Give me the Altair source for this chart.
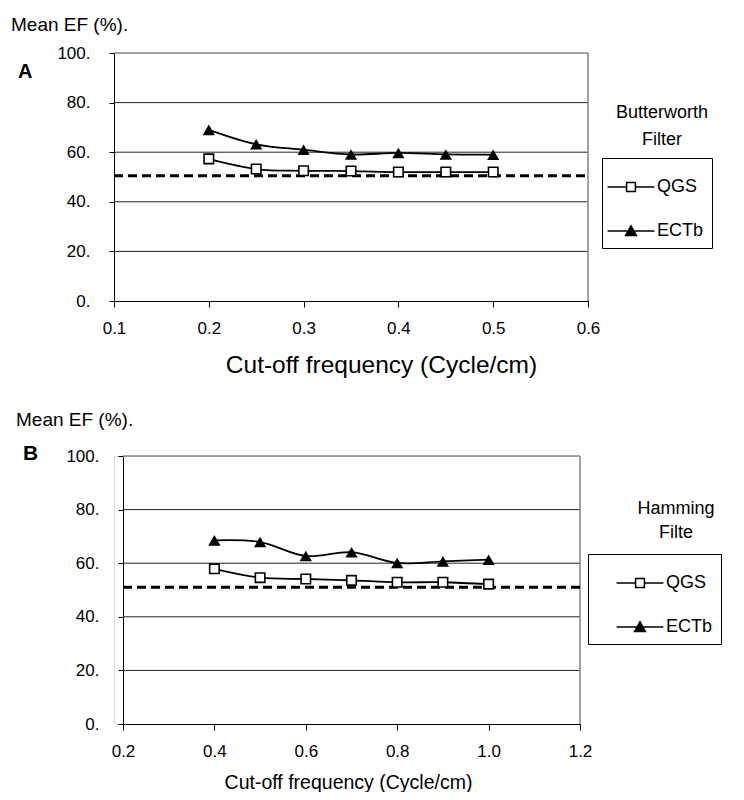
import altair as alt
import pandas as pd

FONT = "Liberation Sans"

series_names = ["QGS", "ECTb"]

# Panel A: Butterworth filter
a_freq = [0.2, 0.25, 0.3, 0.35, 0.4, 0.45, 0.5]
a_qgs = [57.3, 53.2, 52.5, 52.4, 52.0, 52.0, 52.0]
a_ectb = [69.0, 63.2, 61.0, 59.1, 59.7, 59.1, 59.0]
a_ref = [50.5]
a_xticks = [0.1, 0.2, 0.3, 0.4, 0.5, 0.6]
a_xdomain = [0.1, 0.6]

# Panel B: Hamming filter
b_freq = [0.4, 0.5, 0.6, 0.7, 0.8, 0.9, 1.0]
b_qgs = [57.9, 54.6, 54.1, 53.6, 52.9, 52.9, 52.2]
b_ectb = [68.5, 67.9, 62.7, 64.1, 60.1, 60.7, 61.3]
b_ref = [51.0]
b_xticks = [0.2, 0.4, 0.6, 0.8, 1.0, 1.2]
b_xdomain = [0.2, 1.2]

y_ticks = [0, 20, 40, 60, 80, 100]
y_domain = [0, 100]
grid_vals = [20, 40, 60, 80]
y_label = ["Mean EF (%)."]
x_title = "Cut-off frequency (Cycle/cm)"
a_letter = ["A"]
b_letter = ["B"]
a_legend_title = ["Butterworth\nFilter"]
b_legend_title = ["Hamming\nFilte"]

# legend symbols: line segment with marker (custom paths in the -1..1 box)
SQ_PATH = "M-1.17,0H-0.22M0.22,0H1.17M-0.22,-0.22H0.22V0.22H-0.22Z"
TRI_PATH = "M-1.17,0H1.17M-0.27,0.22L0,-0.26L0.27,0.22Z"


def panel(freq, qgs, ectb, ref, xdom, xticks, W, H, shift, title_size, title_pad, title_x,
          letter, letter_x, letter_y, letter_size, ylab_y,
          leg_title, leg_tx, leg_ty, leg_lh, leg_x, leg_y, sym_offset):
    n = len(freq)
    df = pd.DataFrame({
        "freq": freq + freq,
        "ef": qgs + ectb,
        "series": [series_names[0]] * n + [series_names[1]] * n,
    })
    base = alt.Chart(df)
    xscale = alt.Scale(domain=xdom, nice=False, zero=False, range=[shift, W + shift])
    yscale = alt.Scale(domain=y_domain, nice=False)
    x = alt.X("freq:Q", scale=xscale,
              axis=alt.Axis(values=xticks, format=".1f", title=x_title,
                            titleFont=FONT, titleFontSize=title_size, titleFontWeight="normal",
                            titleColor="black", titlePadding=title_pad, titleX=title_x,
                            titleAlign="center",
                            labelFont=FONT, labelFontSize=17, labelColor="black",
                            labelPadding=13, tickSize=6, tickColor="black",
                            domainColor="black", grid=False, labelFlush=False))
    y = alt.Y("ef:Q", scale=yscale,
              axis=alt.Axis(values=y_ticks, labelExpr="datum.value + '.'", title=None,
                            labelFont=FONT, labelFontSize=17, labelColor="black",
                            labelPadding=19, tickSize=5, tickColor="black",
                            domainColor="black", grid=False, offset=-shift))

    gdf = pd.DataFrame({"g": grid_vals, "x0": [xdom[0]] * len(grid_vals),
                        "x1": [xdom[1]] * len(grid_vals)})
    grid = alt.Chart(gdf).mark_rule(color="#222222", strokeWidth=1).encode(
        y=alt.Y("g:Q"), x=alt.X("x0:Q"), x2="x1")
    tdf = pd.DataFrame({"g": [y_domain[1]], "x0": [xdom[0]], "x1": [xdom[1]]})
    top = alt.Chart(tdf).mark_rule(color="#888888", strokeWidth=1.5).encode(
        y=alt.Y("g:Q"), x=alt.X("x0:Q"), x2="x1")
    rdf = pd.DataFrame({"xr": [xdom[1]], "y0": [y_domain[0]], "y1": [y_domain[1]]})
    right = alt.Chart(rdf).mark_rule(color="#888888", strokeWidth=1.5).encode(
        x=alt.X("xr:Q"), y=alt.Y("y0:Q"), y2="y1")

    refdf = pd.DataFrame({"ref": ref, "x0": [xdom[0]], "x1": [xdom[1]]})
    ref_rule = alt.Chart(refdf).mark_rule(
        color="black", strokeWidth=3, strokeDash=[9, 5]
    ).encode(y=alt.Y("ref:Q"), x=alt.X("x0:Q"), x2="x1")

    lines = base.mark_line(interpolate="cardinal", color="black", strokeWidth=1.8).encode(
        x=x, y=y, detail="series:N")

    sq = base.transform_filter(alt.datum.series == series_names[0]).mark_point(
        shape="square", size=90, filled=True, fill="white", stroke="black",
        strokeWidth=1.6, opacity=1).encode(x=x, y=y)
    tri = base.transform_filter(alt.datum.series == series_names[1]).mark_point(
        shape="triangle-up", size=150, filled=True, color="black", opacity=1).encode(x=x, y=y)

    leg = alt.Legend(orient="none", legendX=leg_x, legendY=leg_y, title=None,
                     strokeColor="black", padding=8, labelFont=FONT, labelFontSize=18,
                     labelColor="black", labelOffset=5, rowPadding=14,
                     symbolSize=1600,
                     symbolStrokeColor="black", symbolStrokeWidth=1.5,
                     symbolOffset=sym_offset, labelLimit=300)
    legend_layer = base.transform_filter("false").mark_point(
        filled=True, strokeWidth=1.5, opacity=1).encode(
        x=x, y=y,
        shape=alt.Shape("series:N", scale=alt.Scale(domain=series_names, range=[SQ_PATH, TRI_PATH]),
                        legend=leg),
        fill=alt.Fill("series:N", scale=alt.Scale(domain=series_names, range=["white", "black"]),
                      legend=leg),
        stroke=alt.Stroke("series:N", scale=alt.Scale(domain=series_names, range=["black", "black"]),
                          legend=leg),
    )

    ylab = alt.Chart(pd.DataFrame({"t": y_label})).mark_text(
        font=FONT, fontSize=19, align="left", baseline="alphabetic", color="black"
    ).encode(text="t:N", x=alt.value(letter_x - 7), y=alt.value(ylab_y))

    let = alt.Chart(pd.DataFrame({"t": letter})).mark_text(
        font=FONT, fontSize=letter_size, fontWeight="bold", align="left",
        baseline="alphabetic", color="black"
    ).encode(text="t:N", x=alt.value(letter_x), y=alt.value(letter_y))

    ltitle = alt.Chart(pd.DataFrame({"t": leg_title})).mark_text(
        font=FONT, fontSize=18, align="center", baseline="alphabetic", color="black",
        lineBreak="\n", lineHeight=leg_lh
    ).encode(text="t:N", x=alt.value(leg_tx), y=alt.value(leg_ty))

    layers = [grid, top, right, ref_rule, lines, sq, tri, legend_layer, ylab, let, ltitle]
    return alt.layer(*layers).properties(width=W + shift, height=H)


chart_a = panel(a_freq, a_qgs, a_ectb, a_ref, a_xdomain, a_xticks, 474, 248, 0,
                title_size=24.5, title_pad=17, title_x=267,
                letter=a_letter, letter_x=-96, letter_y=25,
                letter_size=20, ylab_y=-22, leg_title=a_legend_title, leg_tx=548, leg_ty=65,
                leg_lh=27, leg_x=488, leg_y=105, sym_offset=0)

chart_b = panel(b_freq, b_qgs, b_ectb, b_ref, b_xdomain, b_xticks, 457, 268, 9,
                title_size=19.5, title_pad=14, title_x=234,
                letter=b_letter, letter_x=-91, letter_y=4,
                letter_size=21, ylab_y=-30, leg_title=b_legend_title, leg_tx=562, leg_ty=58,
                leg_lh=24, leg_x=474, leg_y=98, sym_offset=23)

chart = alt.vconcat(chart_a, chart_b, spacing=33).resolve_scale(
    shape="independent", fill="independent", stroke="independent"
).properties(
    padding={"left": 2, "top": 7, "right": 0, "bottom": 0}
).configure_view(strokeWidth=0).configure(background="white")

chart.save("out.html", embed_options={"renderer": "svg", "actions": False})
